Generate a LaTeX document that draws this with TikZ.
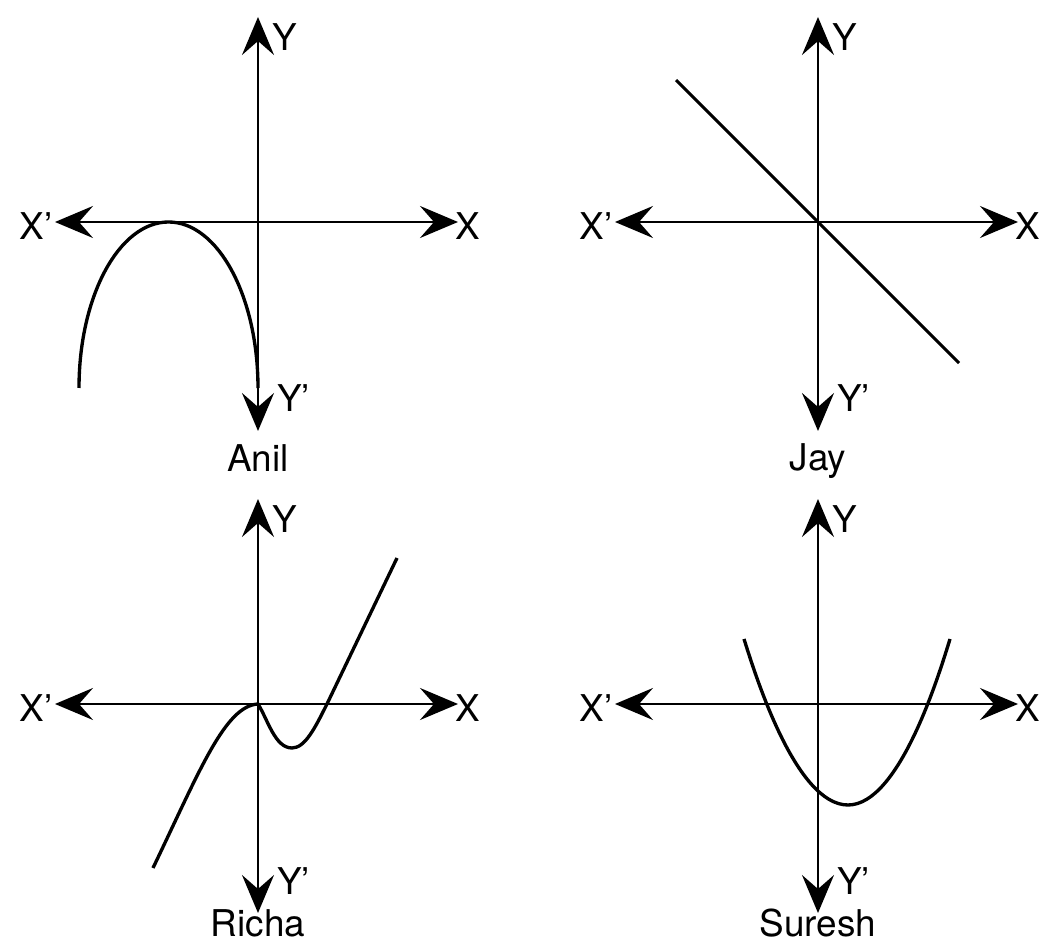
\documentclass[tikz,border=0pt]{standalone}
\usepackage{fontspec}
\setmainfont{TeX Gyre Heros}
\usetikzlibrary{arrows.meta}

\begin{document}
\begin{tikzpicture}[>={Stealth[length=0.76cm, width=0.64cm, inset=0.28cm]},
    axis/.style={<->, line width=1.5pt},
    graph/.style={line width=1.9pt},
    lbl/.style={inner sep=0pt, font=\fontsize{21}{25}\selectfont}]
    \useasboundingbox (0,0) rectangle (20.78,18.9);

    % Axes and labels of the four panels
    \foreach \n/\ox/\oy/\who/\nb in {A/5.16/14.46/Anil/-5.0, J/16.36/14.46/Jay/-4.97,
                                      R/5.16/4.82/Richa/-4.64, S/16.36/4.82/Suresh/-4.64} {
        \coordinate (\n-O) at (\ox,\oy);
        \coordinate (\n-L) at (\ox-4.06,\oy);
        \coordinate (\n-R) at (\ox+4.0,\oy);
        \coordinate (\n-T) at (\ox,\oy+4.1);
        \coordinate (\n-B) at (\ox,\oy-4.18);
        \draw[axis] (\n-L) -- (\n-R);
        \draw[axis] (\n-B) -- (\n-T);
        \node[lbl, anchor=base west] (\n-y) at (\ox+0.28,\oy+3.42) {Y};
        \node[lbl, anchor=base east] (\n-xl) at (\ox-4.1,\oy-0.36) {X'};
        \node[lbl, anchor=base west] (\n-x) at (\ox+3.95,\oy-0.36) {X};
        \node[lbl, anchor=base west] (\n-yl) at (\ox+0.38,\oy-3.8) {Y'};
        \node[lbl, anchor=base] (\n-name) at (\ox,\oy+\nb) {\who};
    }

    % Anil: downward arch touching X'X
    \begin{scope}[shift={(A-O)}]
        \draw[graph] (-3.58,-3.32) arc[start angle=180, end angle=0, x radius=1.79, y radius=3.32];
    \end{scope}

    % Jay: straight line through the origin
    \begin{scope}[shift={(J-O)}]
        \draw[graph, line width=1.7pt] (-2.84,2.84) -- (2.82,-2.82);
    \end{scope}

    % Richa: cubic-like curve
    \begin{scope}[shift={(R-O)}]
        \draw[graph] (-2.1,-3.28) .. controls (-1.16,-1.32) and (-0.66,-0.04) .. (0,0)
            .. controls (0.2,-0.32) and (0.34,-0.88) .. (0.68,-0.88)
            .. controls (0.94,-0.88) and (1.14,-0.48) .. (1.38,0) -- (2.78,2.92);
    \end{scope}

    % Suresh: upward parabola
    \begin{scope}[shift={(S-O)}]
        \draw[graph] (-1.48,1.3) parabola bend (0.6,-2.02) (2.64,1.3);
    \end{scope}
\end{tikzpicture}
\end{document}
